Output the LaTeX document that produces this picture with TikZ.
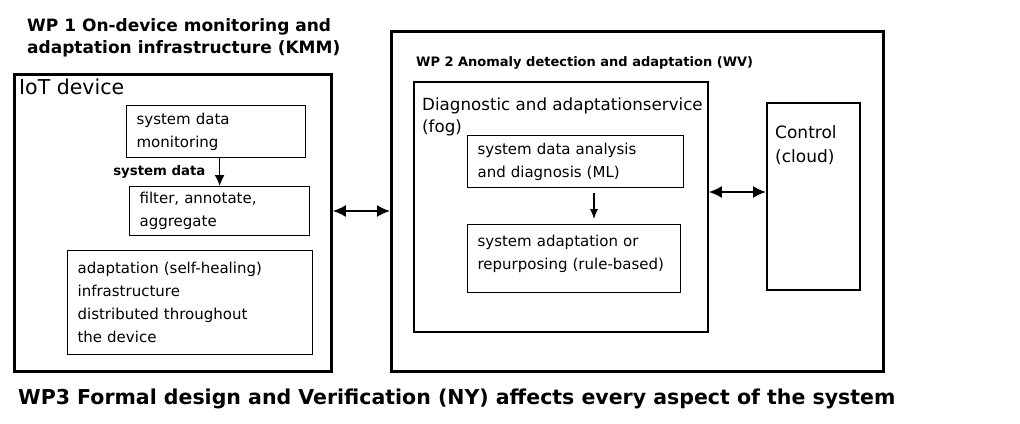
\documentclass[tikz,border=0pt]{standalone}
\usepackage{fontspec}
\setmainfont{DejaVu Sans}
\usepackage{tikz}
\usetikzlibrary{arrows.meta}

\tikzset{
	frame/.style={draw, line width=2.8pt, anchor=north west, inner sep=0pt},
	midframe/.style={draw, line width=1.8pt, anchor=north west, inner sep=0pt},
	box/.style={draw, line width=1.2pt, anchor=north west, inner xsep=10pt, inner ysep=0pt, align=left, font=\fontsize{15}{23}\selectfont},
	title/.style={anchor=north west, inner sep=0pt, align=left, font=\bfseries\fontsize{17}{22}\selectfont},
	both/.style={{Latex[length=13pt,width=12pt]}-{Latex[length=13pt,width=12pt]}, line width=1.8pt},
	down/.style={-{Latex[length=11pt,width=10pt]}, line width=1.6pt}
}

\begin{document}
\begin{tikzpicture}[x=1pt, y=-1pt]

	\useasboundingbox (0,0) rectangle (1020,423);

	\node[title] (wpone) at (27,18) {WP 1 On-device monitoring and\\adaptation infrastructure (KMM)};
	\node[frame, minimum width=317pt, minimum height=297pt] (iot) at (13,73) {};
	\node[anchor=north west, inner sep=0pt, font=\fontsize{20.5}{24}\selectfont] (iotname) at (19,79) {IoT device};

	\node[box, text width=159pt, minimum height=52pt] (mon) at (126,105) {system data\\monitoring};
	\node[box, text width=160pt, minimum height=49pt] (filt) at (129,186) {filter, annotate,\\aggregate};
	\node[box, text width=225pt, minimum height=104pt] (heal) at (67,250) {adaptation (self-healing)\\infrastructure\\distributed throughout\\the device};
	\draw[down] (mon.south -| filt.north) -- node[left=10pt, font=\bfseries\fontsize{13.3}{15}\selectfont] (sysdata) {system data} (filt.north);

	\node[frame, minimum width=492pt, minimum height=340pt] (wptwo) at (390,30) {};
	\node[title, font=\bfseries\fontsize{13}{16}\selectfont] (wptwoname) at (416,56) {WP 2 Anomaly detection and adaptation (WV)};

	\node[midframe, minimum width=294pt, minimum height=250pt] (diag) at (413,81) {};
	\node[anchor=north west, inner sep=0pt, align=left, font=\fontsize{16.7}{22}\selectfont] (diagname) at (422,98) {Diagnostic and adaptationservice\\(fog)};
	\node[box, text width=196pt, minimum height=52pt] (ana) at (467,135) {system data analysis\\and diagnosis (ML)};
	\node[box, text width=193pt, minimum height=68pt, text depth=35pt] (rep) at (467,224) {system adaptation or\\repurposing (rule-based)};
	\draw[-{Latex[length=10pt,width=8pt]}, line width=1.1pt, shorten <=5pt, shorten >=5pt] (ana.south -| 594,0) -- (rep.north -| 594,0);

	\node[midframe, minimum width=93pt, minimum height=187pt] (ctrl) at (766,102) {};
	\node[anchor=north west, inner sep=0pt, align=left, font=\fontsize{17}{24}\selectfont] (ctrlname) at (775,125) {Control\\(cloud)};

	\coordinate (link) at (360,211);
	\coordinate (cloudlink) at (736,192);
	\draw[both] (iot.east |- link) -- (wptwo.west |- link);
	\draw[both] (diag.east |- cloudlink) -- (ctrl.west |- cloudlink);

	\node[anchor=west, inner sep=0pt, font=\bfseries\fontsize{20.5}{24}\selectfont] (wpthree) at (18,399) {WP3 Formal design and Verification (NY) affects every aspect of the system};

\end{tikzpicture}
\end{document}
